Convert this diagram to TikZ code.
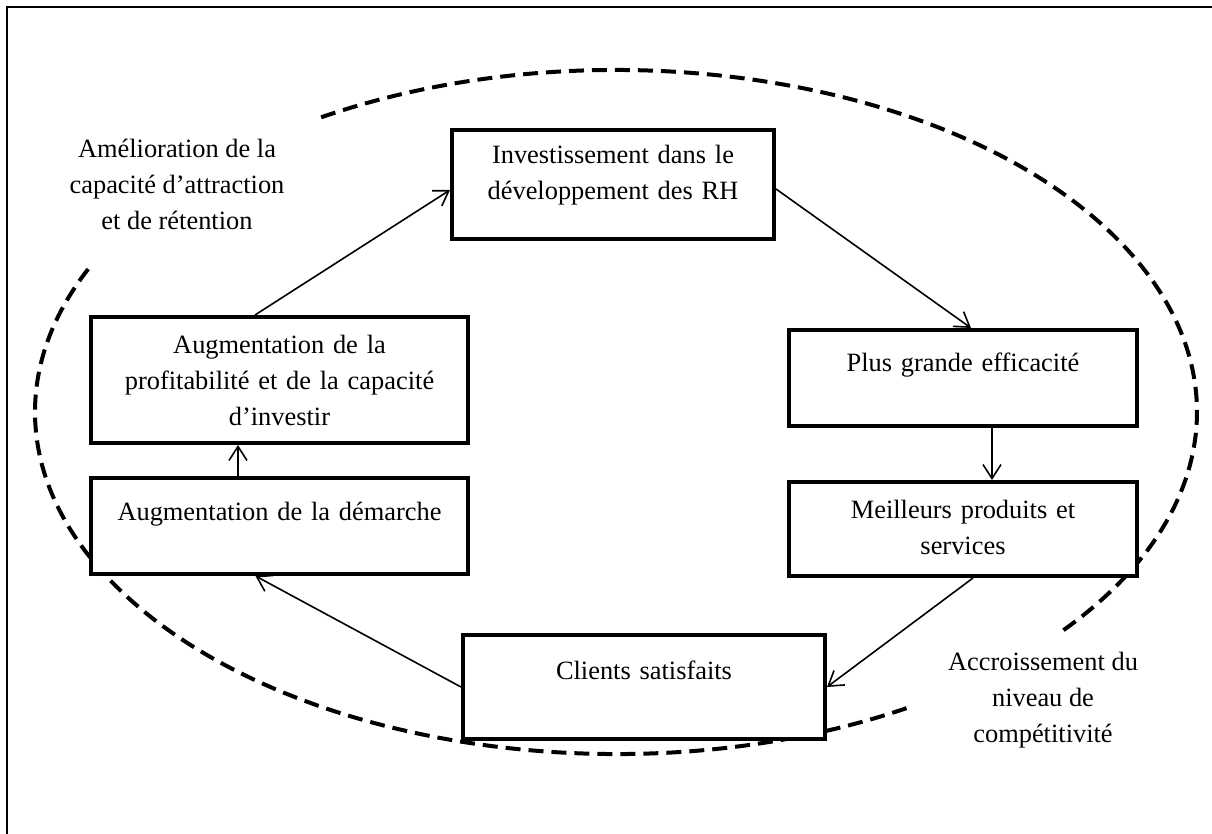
\documentclass[tikz,border=0pt]{standalone}
\usepackage{fontspec}
\setmainfont{Liberation Serif}
\usetikzlibrary{arrows.meta}

\begin{document}
\begin{tikzpicture}[x=0.5pt,y=0.5pt,
    every node/.style={font=\fontsize{13.2}{18}\selectfont},
    boite/.style={draw, line width=2pt, fill=white, inner sep=0pt,
      align=center, anchor=north west},
    fl/.style={-{Straight Barb[length=7pt,width=9pt]}, line width=0.8pt},
    pointille/.style={line width=2pt, dash pattern=on 7.5pt off 4pt}]
  \useasboundingbox (0,0) rectangle (1212,-834);
  \draw[line width=1pt] (7,-7) rectangle (1240,-860);
  % ellipse en pointilles, deux arcs
  \coordinate (centre) at (616,-412);
  \draw[pointille] (centre) ++(120.5:290.5pt and 171pt)
    arc[start angle=120.5, end angle=-40, x radius=290.5pt, y radius=171pt];
  \draw[pointille] (centre) ++(-60:290.5pt and 171pt)
    arc[start angle=-60, end angle=-205, x radius=290.5pt, y radius=171pt];
  % cadres
  \node[boite, text width=161pt, text height=17pt, text depth=37.5pt]
    (invest) at (450,-128) {Investissement dans le\\ développement des RH};
  \node[boite, text width=174pt, text height=21pt, text depth=27pt]
    (effic) at (787,-328) {Plus grande efficacité};
  \node[boite, text width=174pt, text height=18.5pt, text depth=28.5pt]
    (produits) at (787,-480) {Meilleurs produits et\\ services};
  \node[boite, text width=181pt, text height=22pt, text depth=30pt]
    (clients) at (461,-633) {Clients satisfaits};
  \node[boite, text width=188.5pt, text height=21.5pt, text depth=26.5pt]
    (demarche) at (89,-476) {Augmentation de la démarche};
  \node[boite, text width=188.5pt, text height=18.5pt, text depth=44.5pt]
    (profit) at (89,-315) {Augmentation de la\\ profitabilité et de la capacité\\ d’investir};
  % textes hors cadres
  \node[align=center] (attraction) at (177,-184)
    {Amélioration de la\\ capacité d’attraction\\ et de rétention};
  \node[align=center] (competitivite) at (1043,-700)
    {Accroissement du\\ niveau de\\ compétitivité};
  % fleches
  \draw[fl] ([xshift=-12.25pt]profit.north) -- ([yshift=-2.75pt]invest.west);
  \draw[fl] ([yshift=-2.25pt]invest.east) -- ([xshift=4pt]effic.north);
  \draw[fl] ([xshift=14.5pt]effic.south) -- ([xshift=14.5pt]produits.north);
  \draw[fl] ([xshift=5pt]produits.south) -- (clients.east);
  \draw[fl] (clients.west) -- ([xshift=-12pt]demarche.south);
  \draw[fl] ([xshift=-20.75pt]demarche.north) -- ([xshift=-20.75pt]profit.south);
\end{tikzpicture}
\end{document}
